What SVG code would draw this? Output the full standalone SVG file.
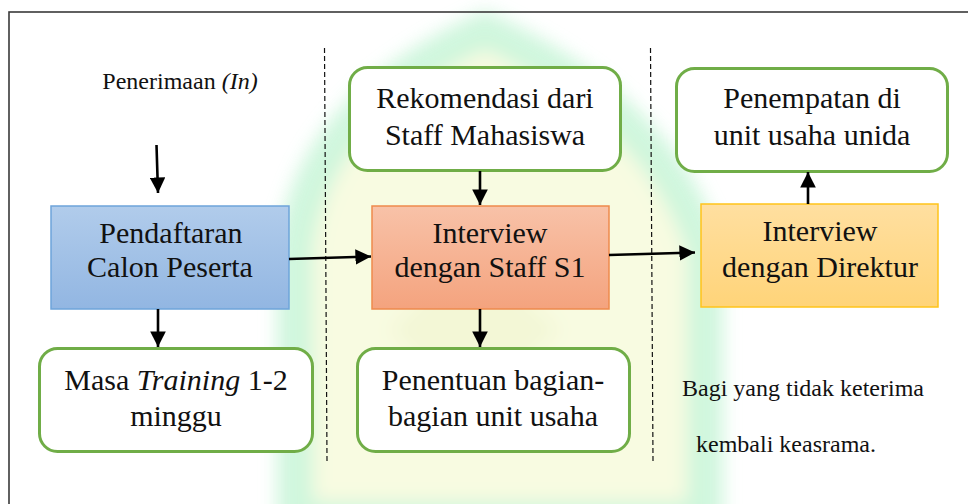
<svg xmlns="http://www.w3.org/2000/svg" width="968" height="504" viewBox="0 0 968 504">
  <style>
    text { font-family: "Liberation Serif", "Times New Roman", serif; fill: #111; text-anchor: middle; }
    .big { font-size: 30px; }
    .small { font-size: 24px; }
    .rbox { fill: #ffffff; stroke: #70ad47; stroke-width: 3; }
    .edge { stroke: #000; stroke-width: 2.6; fill: none; marker-end: url(#head); }
    .divider { stroke: #111; stroke-width: 1.2; stroke-dasharray: 5 3; fill: none; }
  </style>
  <defs>
    <marker id="head" viewBox="0 0 10 10" refX="10" refY="5" markerWidth="6" markerHeight="6" markerUnits="strokeWidth" orient="auto">
      <path d="M0,0 L10,5 L0,10 z" fill="#000"/>
    </marker>
    <linearGradient id="gBlue" x1="0" y1="0" x2="0" y2="1">
      <stop offset="0" stop-color="#b1cceb"/>
      <stop offset="1" stop-color="#92b6e2"/>
    </linearGradient>
    <linearGradient id="gOrange" x1="0" y1="0" x2="0" y2="1">
      <stop offset="0" stop-color="#f8c2a8"/>
      <stop offset="1" stop-color="#f4a37e"/>
    </linearGradient>
    <linearGradient id="gYellow" x1="0" y1="0" x2="0" y2="1">
      <stop offset="0" stop-color="#ffdfa0"/>
      <stop offset="1" stop-color="#ffd479"/>
    </linearGradient>
    <filter id="soft" x="-20%" y="-20%" width="140%" height="140%">
      <feGaussianBlur stdDeviation="9"/>
    </filter>
  </defs>

  <rect x="0" y="0" width="968" height="504" fill="#ffffff"/>

  <!-- faint background emblem -->
  <g id="emblem" filter="url(#soft)" opacity="0.85">
    <path d="M295,520 L295,250 Q310,110 485,30 Q660,110 705,250 L705,520 z" fill="#f7fbdc" stroke="#c8f5d8" stroke-width="36"/>
    <path d="M390,330 L470,250 L560,330 L470,410 z" fill="#eef3c8" opacity="0.6"/>
  </g>

  <!-- outer frame -->
  <rect x="9" y="12" width="970" height="510" fill="none" stroke="#3a3a3a" stroke-width="1.6"/>

  <!-- column dividers -->
  <g id="dividers">
    <line class="divider" x1="324.5" y1="48" x2="327" y2="461"/>
    <line class="divider" x1="650.5" y1="48" x2="653" y2="461"/>
  </g>

  <!-- free labels -->
  <g id="label-in">
    <text class="small" x="180" y="89">Penerimaan <tspan font-style="italic">(In)</tspan></text>
  </g>
  <g id="label-rejected">
    <text class="small" x="803" y="396">Bagi yang tidak keterima</text>
    <text class="small" x="786" y="452">kembali keasrama.</text>
  </g>

  <!-- nodes -->
  <g id="pendaftaran">
    <rect x="51" y="206" width="238" height="103" fill="url(#gBlue)" stroke="#6ea4da" stroke-width="1.5"/>
    <text class="big" x="171" y="243">Pendaftaran</text>
    <text class="big" x="170" y="277">Calon Peserta</text>
  </g>

  <g id="masa-training">
    <rect class="rbox" x="39.5" y="348.5" width="273" height="103" rx="18"/>
    <text class="big" x="176" y="390">Masa <tspan font-style="italic">Training</tspan> 1-2</text>
    <text class="big" x="176" y="426">minggu</text>
  </g>

  <g id="rekomendasi">
    <rect class="rbox" x="349.5" y="67.5" width="271" height="103" rx="18"/>
    <text class="big" x="485" y="108">Rekomendasi dari</text>
    <text class="big" x="485" y="145">Staff Mahasiswa</text>
  </g>

  <g id="interview-staff">
    <rect x="372" y="206" width="237" height="103" fill="url(#gOrange)" stroke="#ee8a4c" stroke-width="1.5"/>
    <text class="big" x="490" y="243">Interview</text>
    <text class="big" x="490" y="277">dengan Staff S1</text>
  </g>

  <g id="penentuan">
    <rect class="rbox" x="357.5" y="348.5" width="272" height="103" rx="18"/>
    <text class="big" x="493" y="390">Penentuan bagian-</text>
    <text class="big" x="493" y="426">bagian unit usaha</text>
  </g>

  <g id="interview-direktur">
    <rect x="701" y="204" width="237" height="103" fill="url(#gYellow)" stroke="#ffc41a" stroke-width="1.5"/>
    <text class="big" x="820" y="241">Interview</text>
    <text class="big" x="820" y="277">dengan Direktur</text>
  </g>

  <g id="penempatan">
    <rect class="rbox" x="676.5" y="68.5" width="271" height="103" rx="18"/>
    <text class="big" x="812" y="108">Penempatan di</text>
    <text class="big" x="812" y="145">unit usaha unida</text>
  </g>

  <!-- connectors -->
  <g id="connectors">
    <line class="edge" x1="156.5" y1="145" x2="158" y2="193"/>
    <line class="edge" x1="158" y1="309" x2="158" y2="347"/>
    <line class="edge" x1="289" y1="259" x2="371" y2="256.5"/>
    <line class="edge" x1="480" y1="171" x2="480" y2="205"/>
    <line class="edge" x1="480" y1="309" x2="480" y2="347"/>
    <line class="edge" x1="609" y1="255" x2="695" y2="252.5"/>
    <line class="edge" x1="808" y1="204" x2="808" y2="172"/>
  </g>
</svg>
